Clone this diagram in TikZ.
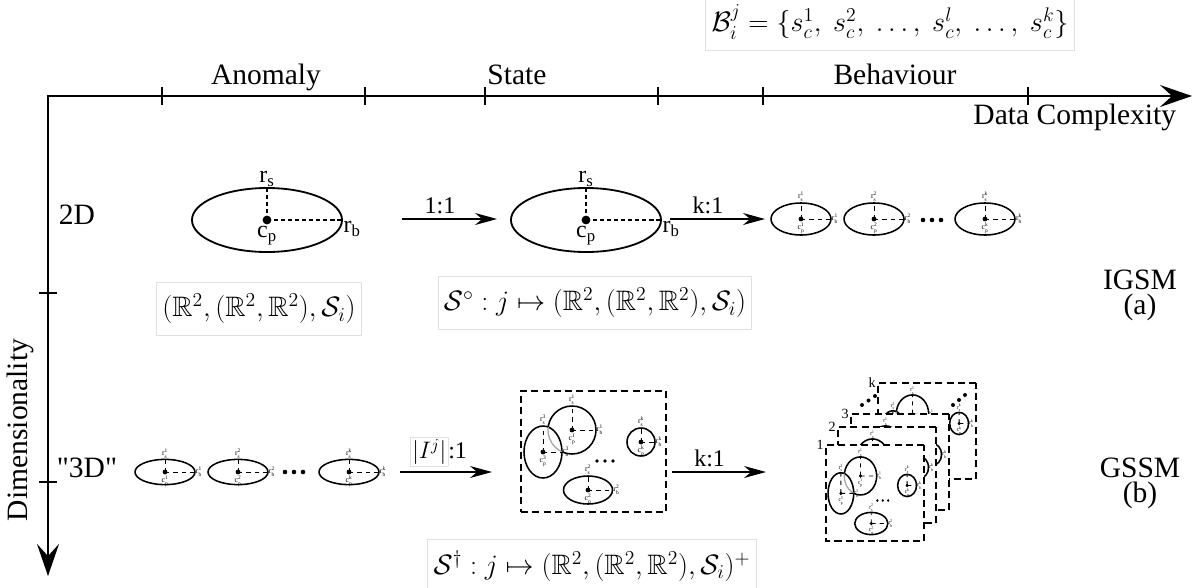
\RequirePackage{fix-cm}
\documentclass[tikz,border=0pt]{standalone}
\usepackage{amsmath,amssymb}
\usepackage[no-math]{fontspec}
\setmainfont{Liberation Serif}
\usetikzlibrary{arrows.meta,shapes.geometric}

% label with sub- and superscript, as r_s^1
\newcommand{\rlab}[3]{$\text{#1}^{\text{#3}}_{\text{#2}}$}

% one small ellipse: name, x, y, index, height
\newcommand{\miniell}[5]{%
  \node[smell, minimum height=#5] (#1) at (#2,#3) {};
  \node[smdot] (#1c) at (#1.center) {};
  \draw[rad] (#1c.center) -- (#1.north);
  \draw[rad] (#1c.center) -- (#1.east);
  \node[tinylab, anchor=south] at (#1.north) {\rlab{r}{s}{#4}};
  \node[tinylab, anchor=west] at (#1.east) {\rlab{r}{b}{#4}};
  \node[tinylab, anchor=north] at (#1c.south) {\rlab{c}{p}{#4}};
}

% the rings of one state, in the frame of its box (145 x 121)
\newcommand{\ringset}[1]{%
  \node[ring, minimum width=1.2cm, minimum height=1.2cm] (#1a) at (51,39) {};
  \node[ring, fill=white, minimum width=0.95cm, minimum height=1.3cm] (#1b) at (22,61) {};
  \begin{scope}
    \clip (22,61) ellipse [x radius=19, y radius=26];
    \draw[line width=0.9pt, black!35] (51,39) ellipse [x radius=24, y radius=24];
  \end{scope}
  \node[ring, minimum width=0.7cm, minimum height=0.7cm] (#1c) at (120,51) {};
  \node[ring, minimum width=1.225cm, minimum height=0.7cm] (#1d) at (67,99) {};
  \foreach \d in {-8,0,8}
    \fill (84+\d,70) circle [radius=1.8];
  \foreach \rg/\idx in {a/1, b/3, c/k, d/2} {
    \node[smdot] (#1\rg p) at (#1\rg.center) {};
    \draw[rad] (#1\rg p.center) -- (#1\rg.north);
    \draw[rad] (#1\rg p.center) -- (#1\rg.east);
    \node[tinylab, anchor=south] at (#1\rg.north) {\rlab{r}{s}{\idx}};
    \node[tinylab, anchor=west] at (#1\rg.east) {\rlab{r}{b}{\idx}};
    \node[tinylab, anchor=north] at (#1\rg p.south) {\rlab{c}{p}{\idx}};
  }
}

\begin{document}
\begin{tikzpicture}[x=0.025cm, y=-0.025cm,
    axis/.style={line width=1.5pt, line cap=rect, -{Stealth[length=0.8cm, width=0.55cm, inset=0.3cm]}},
    tick/.style={line width=1.2pt},
    flow/.style={line width=0.9pt, -{Stealth[length=0.55cm, width=0.3cm, inset=0.18cm]}},
    lab/.style={font=\fontsize{21}{24}\selectfont},
    numlab/.style={font=\fontsize{17}{20}\selectfont},
    fml/.style={draw=black!12, line width=0.7pt, font=\fontsize{20}{23}\selectfont, inner xsep=4pt, inner ysep=8pt},
    bigell/.style={ellipse, draw, line width=1.3pt, inner sep=0pt, outer sep=0pt, minimum width=3.75cm, minimum height=1.6cm},
    smell/.style={ellipse, draw, line width=1.1pt, inner sep=0pt, outer sep=0pt, minimum width=1.5cm},
    ring/.style={ellipse, draw, line width=1.1pt, inner sep=0pt, outer sep=0pt},
    bigdot/.style={circle, fill, inner sep=0pt, minimum size=0.22cm},
    smdot/.style={circle, fill, inner sep=0pt, minimum size=0.12cm},
    rad/.style={dashed, line width=0.6pt},
    brad/.style={dash pattern=on 3pt off 2pt, line width=0.9pt},
    tinylab/.style={font=\fontsize{5.5}{6}\selectfont, inner sep=0.5pt},
    ellab/.style={font=\fontsize{17}{19}\selectfont, inner sep=1pt},
    dbox/.style={draw, fill=white, dash pattern=on 5pt off 3pt, line width=1.3pt, inner sep=0pt, outer sep=0pt, minimum width=3.625cm, minimum height=3.025cm},
  ]
  \useasboundingbox (0,0) rectangle (1199,587);

  % axes
  \coordinate (org) at (48,96);
  \coordinate (xend) at (1192,96);
  \coordinate (yend) at (48,576);
  \draw[axis] (org) -- (xend);
  \draw[axis] (org) -- (yend);
  \foreach \t in {162,365,485,658,763,1028}
    \draw[tick] (\t,87) -- (\t,105);
  \foreach \t in {293,482}
    \draw[tick] (39,\t) -- (57,\t);

  \node[lab, anchor=base] (anom) at (266,84) {Anomaly};
  \node[lab, anchor=base] (state) at (517,84) {State};
  \node[lab, anchor=base] (behav) at (895,84) {Behaviour};
  \node[lab, anchor=base east] (dcx) at (1181,124) {Data Complexity};
  \node[lab, rotate=90] (dim) at (20,430) {Dimensionality};
  \node[lab] (two) at (77,215) {2D};
  \node[lab] (three) at (87,468) {\textquotedbl 3D\textquotedbl};
  \node[lab] (igsm) at (1140,280) {IGSM};
  \node[lab] (ia) at (1140,307) {(a)};
  \node[lab] (gssm) at (1140,468) {GSSM};
  \node[lab] (ib) at (1140,495) {(b)};

  % sets
  \node[fml] (bset) at (890,22) {$\mathcal{B}_i^j = \{s_c^1,\ s_c^2,\ \ldots,\ s_c^l,\ \ldots,\ s_c^k\}$};
  \node[fml] (aset) at (259,309) {$(\mathbb{R}^2, (\mathbb{R}^2, \mathbb{R}^2), \mathcal{S}_i)$};
  \node[fml] (sset) at (595,303) {$\mathcal{S}^\circ : j \mapsto (\mathbb{R}^2, (\mathbb{R}^2, \mathbb{R}^2), \mathcal{S}_i)$};
  \node[fml] (gset) at (592,566) {$\mathcal{S}^\dagger : j \mapsto (\mathbb{R}^2, (\mathbb{R}^2, \mathbb{R}^2), \mathcal{S}_i)^+$};

  % 2D row
  \foreach \e/\x in {e1/267, e2/586} {
    \node[bigell] (\e) at (\x,220) {};
    \node[bigdot] (\e c) at (\e.center) {};
    \draw[brad] (\e c.center) -- (\e.north);
    \draw[brad] (\e c.center) -- (\e.east);
    \node[ellab, anchor=south] at (\e.north) {r\textsubscript{s}};
    \node[ellab, anchor=north west] at (\e.east) {r\textsubscript{b}};
    \node[ellab, anchor=north] at (\e c.south) {c\textsubscript{p}};
  }
  \miniell{f1}{801}{219}{1}{0.8cm}
  \miniell{f2}{874}{219}{2}{0.8cm}
  \miniell{f3}{985}{219}{k}{0.8cm}
  \foreach \d in {-9,0,9}
    \fill (932+\d,220) circle [radius=2.3];

  \coordinate (p1) at (402,219);
  \coordinate (p2) at (497,219);
  \coordinate (p3) at (670,219);
  \coordinate (p4) at (765,219);
  \draw[flow] (p1) -- node[numlab, above, pos=0.4] {1:1} (p2);
  \draw[flow] (p3) -- node[numlab, above, pos=0.4] {k:1} (p4);

  % "3D" row
  \miniell{g1}{165}{472}{1}{0.63cm}
  \miniell{g2}{238}{472}{2}{0.63cm}
  \miniell{g3}{349}{472}{k}{0.63cm}
  \foreach \d in {-9,0,9}
    \fill (294+\d,472) circle [radius=2.3];

  \coordinate (q1) at (400,472);
  \coordinate (q2) at (492,472);
  \coordinate (q3) at (672,472);
  \coordinate (q4) at (766,472);
  \draw[flow] (q1) -- node[numlab, above, pos=0.42] {{\setlength{\fboxsep}{1pt}\fcolorbox{black!12}{white}{$|I^j|$}}:1} (q2);
  \draw[flow] (q3) -- node[numlab, above, pos=0.4] {k:1} (q4);

  \begin{scope}[shift={(521,391)}]
    \node[dbox, anchor=north west] (st) at (0,0) {};
    \ringset{st}
  \end{scope}

  % stack of states, back to front
  \foreach \bx/\by/\bn/\bs in {878/383/k/4, 851/414/3/3, 838/427/2/2, 826/445/1/1} {
    \begin{scope}[shift={(\bx,\by)}, xscale=0.676, yscale=0.793, transform shape]
      \node[dbox, anchor=north west] (bx\bs) at (0,0) {};
      \ringset{b\bs}
    \end{scope}
    \node[font=\fontsize{10}{12}\selectfont, anchor=east, inner sep=1.5pt] at (bx\bs.north west) {\bn};
  }
  \foreach \dx/\dy in {862/405, 868.5/400.5, 875/396, 953/405, 959/400, 965/395}
    \fill (\dx,\dy) circle [radius=2];
\end{tikzpicture}
\end{document}
